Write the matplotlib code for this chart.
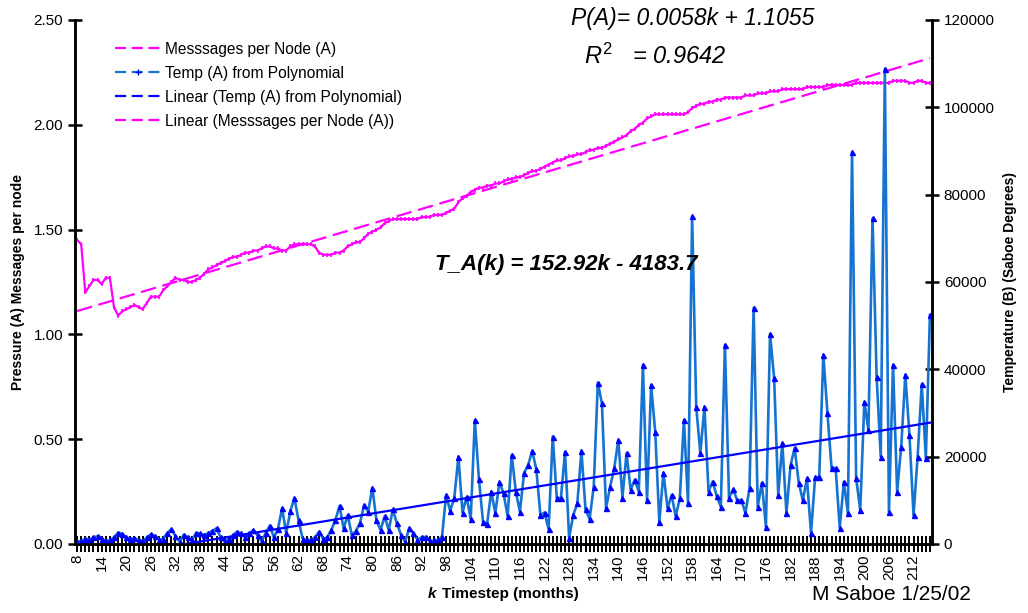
import matplotlib
matplotlib.use("Agg")
import matplotlib.pyplot as plt
from matplotlib.lines import Line2D

plt.rcParams['font.family'] = ['Liberation Sans', 'DejaVu Sans']
plt.rcParams['mathtext.fontset'] = 'custom'
plt.rcParams['mathtext.it'] = 'Liberation Sans:italic'
plt.rcParams['mathtext.rm'] = 'Liberation Sans'

# months k = 8 .. 216
k_values = list(range(8, 217))

messages_per_node = [
    1.45, 1.43, 1.20, 1.23, 1.26, 1.26, 1.24, 1.27, 1.27, 1.13,
    1.09, 1.11, 1.12, 1.13, 1.14, 1.13, 1.12, 1.15, 1.18, 1.18,
    1.18, 1.21, 1.23, 1.25, 1.27, 1.26, 1.26, 1.25, 1.25, 1.26,
    1.27, 1.29, 1.31, 1.32, 1.33, 1.34, 1.35, 1.36, 1.37, 1.37,
    1.38, 1.39, 1.39, 1.40, 1.40, 1.41, 1.42, 1.42, 1.41, 1.41,
    1.40, 1.40, 1.42, 1.43, 1.43, 1.43, 1.43, 1.43, 1.42, 1.39,
    1.38, 1.38, 1.38, 1.39, 1.39, 1.40, 1.42, 1.43, 1.44, 1.44,
    1.46, 1.48, 1.49, 1.50, 1.51, 1.53, 1.54, 1.55, 1.55, 1.55,
    1.55, 1.55, 1.55, 1.55, 1.56, 1.56, 1.56, 1.57, 1.57, 1.57,
    1.58, 1.59, 1.60, 1.63, 1.65, 1.66, 1.68, 1.69, 1.70, 1.70,
    1.71, 1.71, 1.72, 1.72, 1.73, 1.74, 1.74, 1.75, 1.75, 1.76,
    1.77, 1.78, 1.78, 1.79, 1.80, 1.81, 1.82, 1.83, 1.83, 1.84,
    1.85, 1.85, 1.86, 1.86, 1.87, 1.88, 1.88, 1.89, 1.89, 1.90,
    1.91, 1.92, 1.93, 1.94, 1.95, 1.97, 1.98, 2.00, 2.01, 2.03,
    2.04, 2.05, 2.05, 2.05, 2.05, 2.05, 2.05, 2.05, 2.05, 2.06,
    2.08, 2.09, 2.10, 2.10, 2.11, 2.11, 2.12, 2.12, 2.13, 2.13,
    2.13, 2.13, 2.13, 2.14, 2.14, 2.14, 2.15, 2.15, 2.15, 2.16,
    2.16, 2.16, 2.17, 2.17, 2.17, 2.17, 2.17, 2.17, 2.18, 2.18,
    2.18, 2.18, 2.18, 2.19, 2.19, 2.19, 2.19, 2.19, 2.19, 2.19,
    2.20, 2.20, 2.20, 2.20, 2.20, 2.20, 2.20, 2.20, 2.20, 2.21,
    2.21, 2.21, 2.21, 2.20, 2.20, 2.21, 2.21, 2.20, 2.20,
]

temp_from_poly = [
    500, 700, 1200, 1000, 1500, 1800, 1200, 600, 900, 1500,
    2600, 2300, 1500, 1200, 1300, 900, 600, 1500, 2200, 1800,
    1000, 1200, 2500, 3400, 1800, 500, 2100, 1500, 800, 2500,
    2400, 2000, 2500, 3000, 3600, 1500, 500, 1200, 2000, 2800,
    2400, 1600, 2500, 3200, 2000, 600, 2500, 4200, 1500, 3500,
    8200, 2500, 7500, 10500, 5500, 1200, 800, 1000, 1500, 2800,
    1200, 1500, 3200, 5500, 8700, 3600, 6600, 2000, 3000, 4800,
    8900, 7400, 12900, 5500, 3200, 6300, 3200, 7900, 4700, 2100,
    500, 3600, 2500, 1000, 1500, 1600, 700, 800, 900, 1700,
    11200, 7600, 10600, 20000, 7200, 10800, 5700, 28400, 14900, 5100,
    4600, 12000, 7100, 14100, 11700, 6300, 20400, 12000, 7400, 16200,
    18100, 21300, 17100, 6600, 7200, 3400, 24600, 10500, 10500, 21100,
    1400, 6600, 9300, 21300, 7900, 5700, 13100, 36900, 32200, 8200,
    13100, 17300, 23800, 10600, 20800, 12400, 14700, 12000, 41000, 10000,
    36400, 25700, 5100, 16300, 8200, 11200, 6300, 10500, 28400, 9300,
    75000, 31400, 20800, 31400, 12000, 14300, 11000, 8500, 45600, 10500,
    12500, 10000, 10000, 7100, 12800, 54100, 8500, 14000, 3900, 48100,
    38000, 11200, 23100, 7100, 18000, 22000, 14000, 10000, 15000, 2500,
    15300, 15300, 43300, 30000, 17400, 17400, 3700, 14200, 7000, 89800,
    15100, 7800, 32500, 26100, 74600, 38300, 20000, 108800, 7300, 41000,
    12000, 22300, 38700, 25000, 6600, 20000, 36600, 19700, 52400,
]

# Excel trendlines (x = point index 1..N)
p_slope, p_icept = 0.0058, 1.1055
t_slope, t_icept = 152.92, -4183.7
idx = range(1, len(k_values) + 1)
p_trend = [p_slope * i + p_icept for i in idx]
t_trend = [t_slope * i + t_icept for i in idx]

pink = '#FF00FF'
steel = '#1673D2'
blue = '#0000FF'

fig = plt.figure(figsize=(10.28, 6.13), dpi=100)
ax = fig.add_axes([0.073, 0.1126, 0.8336, 0.8548])
ax2 = ax.twinx()

ax.plot(k_values, messages_per_node, color=pink, lw=1.6, marker='|', ms=3, mew=1.2)
ax.plot(k_values, p_trend, color=pink, lw=1.6, dashes=(7, 3))

ax2.plot(k_values, temp_from_poly, color=steel, lw=1.9, marker='^', ms=3.6,
         mfc=blue, mec=blue)
ax2.plot(k_values, t_trend, color=blue, lw=1.6)

ax.set_xlim(7.5, 216.5)
ax.set_ylim(0, 2.5)
ax2.set_ylim(0, 120000)

ax.set_yticks([0, 0.5, 1.0, 1.5, 2.0, 2.5])
ax.set_yticklabels(['%.2f' % v for v in [0, 0.5, 1.0, 1.5, 2.0, 2.5]])
ax2.set_yticks(range(0, 120001, 20000))
ax2.set_yticklabels([str(v) for v in range(0, 120001, 20000)])

ax.set_xticks(k_values)
ax.set_xticklabels([str(k) if (k - 8) % 6 == 0 else '' for k in k_values],
                   rotation=90)

ax.tick_params(axis='x', direction='inout', length=11, width=1.4, labelsize=11, pad=2)
ax.tick_params(axis='y', direction='inout', length=10, width=1.8, labelsize=11)
ax2.tick_params(axis='y', direction='inout', length=10, width=1.8, labelsize=11)

for a in (ax, ax2):
    a.spines['top'].set_visible(False)
    for s in ('left', 'right', 'bottom'):
        a.spines[s].set_linewidth(1.8)
        a.spines[s].set_color('black')

ax.set_ylabel('Pressure (A) Messages per node', fontsize=10, fontweight='bold', labelpad=6)
ax2.set_ylabel('Temperature (B) (Saboe Degrees)', fontsize=10, fontweight='bold', labelpad=6)

fig.text(0.416, 0.024, 'k', fontsize=11, fontweight='bold', style='italic')
fig.text(0.430, 0.024, 'Timestep (months)', fontsize=11, fontweight='bold')
fig.text(0.79, 0.022, 'M Saboe 1/25/02', fontsize=15)

fig.text(0.674, 0.970, 'P(A)= 0.0058k + 1.1055', fontsize=16.5, style='italic',
         ha='center', va='center')
fig.text(0.637, 0.908, r'$R^2$   = 0.9642', fontsize=17, style='italic',
         ha='center', va='center')
fig.text(0.551, 0.568, 'T_A(k) = 152.92k - 4183.7', fontsize=16, style='italic',
         fontweight='bold', ha='center', va='center')

handles = [
    Line2D([], [], color=pink, lw=1.6, dashes=(5, 2.5)),
    Line2D([], [], color=steel, lw=1.6, dashes=(5, 2.5), marker='+', ms=4,
           mec=blue, markevery=[1]),
    Line2D([], [], color=blue, lw=1.6, dashes=(5, 2.5)),
    Line2D([], [], color=pink, lw=1.6, dashes=(5, 2.5)),
]
labels = ['Messsages per Node (A)', 'Temp (A) from Polynomial',
          'Linear (Temp (A) from Polynomial)', 'Linear (Messsages per Node (A))']
ax2.legend(handles, labels, loc='upper left', bbox_to_anchor=(0.03, 0.985),
           frameon=False, fontsize=11.2, handlelength=3.0, handletextpad=0.2,
           labelspacing=0.58)

fig.savefig('out.png', dpi=100)
